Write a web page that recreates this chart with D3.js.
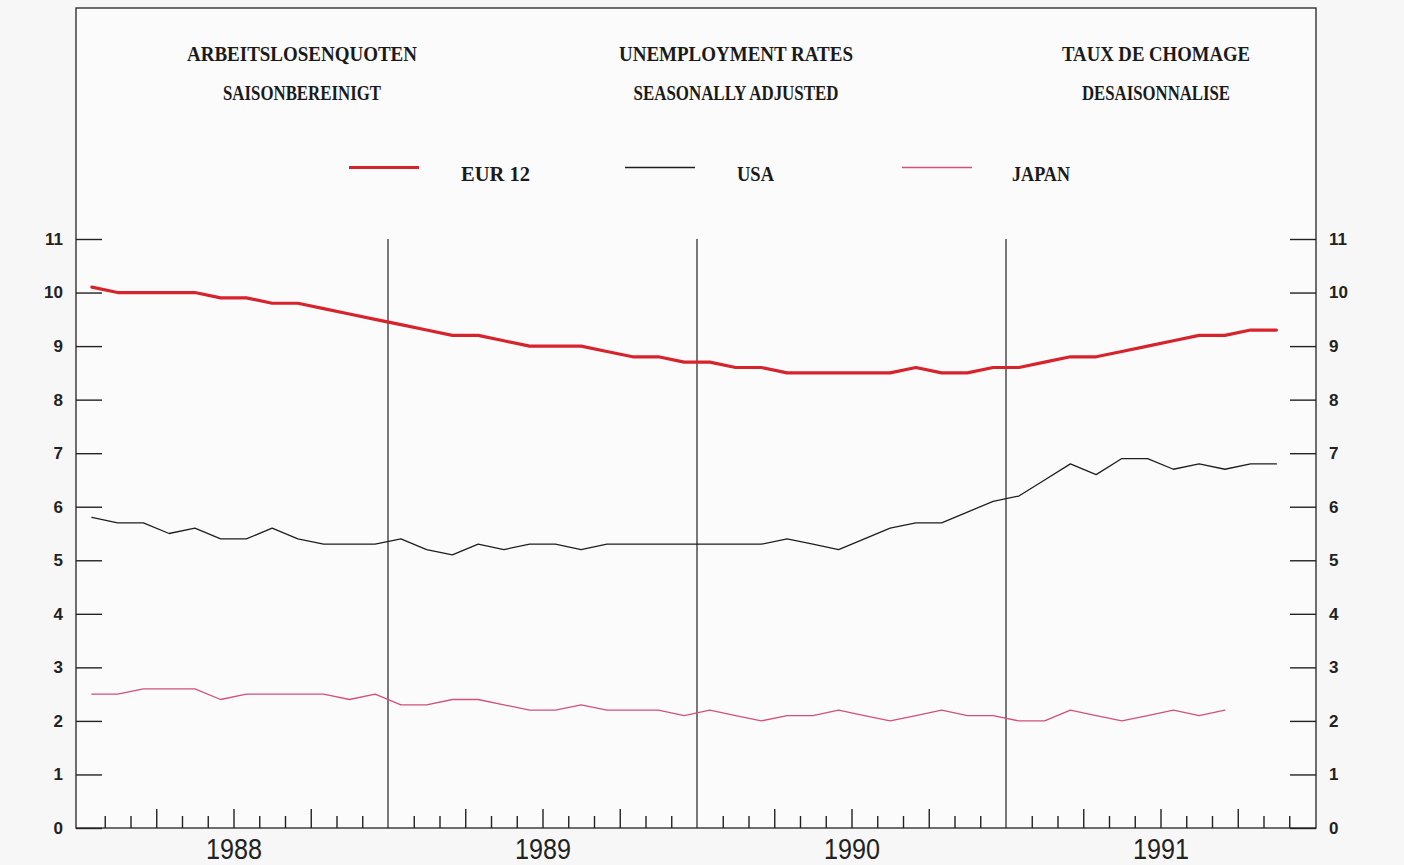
<!DOCTYPE html>
<html>
<head>
<meta charset="utf-8">
<script src="https://cdn.jsdelivr.net/npm/d3@7"></script>
<style>
  html, body { margin: 0; padding: 0; background: #f7f7f7; }
  svg { display: block; }
</style>
</head>
<body>
<svg id="chart" width="1404" height="865"></svg>
<script>
// ---------------- data ----------------
const years = ["1988", "1989", "1990", "1991"];
const yTickValues = [0, 1, 2, 3, 4, 5, 6, 7, 8, 9, 10, 11];
const titleLine1 = ["ARBEITSLOSENQUOTEN", "UNEMPLOYMENT RATES", "TAUX DE CHOMAGE"];
const titleLine2 = ["SAISONBEREINIGT", "SEASONALLY ADJUSTED", "DESAISONNALISE"];
const seriesNames = ["EUR 12", "USA", "JAPAN"];

// monthly values, Jan 1988 onwards
const eur12 = [10.1, 10.0, 10.0, 10.0, 10.0, 9.9, 9.9, 9.8, 9.8, 9.7, 9.6, 9.5,
               9.4, 9.3, 9.2, 9.2, 9.1, 9.0, 9.0, 9.0, 8.9, 8.8, 8.8, 8.7,
               8.7, 8.6, 8.6, 8.5, 8.5, 8.5, 8.5, 8.5, 8.6, 8.5, 8.5, 8.6,
               8.6, 8.7, 8.8, 8.8, 8.9, 9.0, 9.1, 9.2, 9.2, 9.3, 9.3];
const usa   = [5.8, 5.7, 5.7, 5.5, 5.6, 5.4, 5.4, 5.6, 5.4, 5.3, 5.3, 5.3,
               5.4, 5.2, 5.1, 5.3, 5.2, 5.3, 5.3, 5.2, 5.3, 5.3, 5.3, 5.3,
               5.3, 5.3, 5.3, 5.4, 5.3, 5.2, 5.4, 5.6, 5.7, 5.7, 5.9, 6.1,
               6.2, 6.5, 6.8, 6.6, 6.9, 6.9, 6.7, 6.8, 6.7, 6.8, 6.8];
const japan = [2.5, 2.5, 2.6, 2.6, 2.6, 2.4, 2.5, 2.5, 2.5, 2.5, 2.4, 2.5,
               2.3, 2.3, 2.4, 2.4, 2.3, 2.2, 2.2, 2.3, 2.2, 2.2, 2.2, 2.1,
               2.2, 2.1, 2.0, 2.1, 2.1, 2.2, 2.1, 2.0, 2.1, 2.2, 2.1, 2.1,
               2.0, 2.0, 2.2, 2.1, 2.0, 2.1, 2.2, 2.1, 2.2];

// ---------------- styles ----------------
const seriesColors = ["#d7232b", "#1e1e1e", "#d2507c"];
const seriesWidths = [3.2, 1.3, 1.3];
const serif = "'Liberation Serif', 'Times New Roman', serif";
const sans = "'Liberation Sans', Arial, sans-serif";

const svg = d3.select("#chart");
const nMonths = years.length * 12;

const x = d3.scaleLinear().domain([0, nMonths]).range([79, 1315]);
const y = d3.scaleLinear().domain([0, 11]).range([828, 239]);

// frame
svg.append("rect")
  .attr("x", 76).attr("y", 8)
  .attr("width", 1240).attr("height", 820)
  .attr("fill", "#fbfbfb")
  .attr("stroke", "#222").attr("stroke-width", 1.3);

// titles
const titleCenters = [302, 736, 1156];
const line1Widths = [230, 234, 188];
const line2Widths = [158, 205, 148];
titleLine1.forEach((t, i) => {
  svg.append("text")
    .attr("x", titleCenters[i]).attr("y", 61)
    .attr("text-anchor", "middle")
    .attr("font-family", serif).attr("font-weight", "bold")
    .attr("font-size", 22).attr("fill", "#1a1a1a")
    .attr("textLength", line1Widths[i]).attr("lengthAdjust", "spacingAndGlyphs")
    .text(t);
  svg.append("text")
    .attr("x", titleCenters[i]).attr("y", 100)
    .attr("text-anchor", "middle")
    .attr("font-family", serif).attr("font-weight", "bold")
    .attr("font-size", 20).attr("fill", "#1a1a1a")
    .attr("textLength", line2Widths[i]).attr("lengthAdjust", "spacingAndGlyphs")
    .text(titleLine2[i]);
});

// legend
const legendLineX = [349, 625, 902];
const legendTextX = [461, 737, 1012];
const legendTextW = [69, 37, 58];
seriesNames.forEach((name, i) => {
  svg.append("line")
    .attr("x1", legendLineX[i]).attr("x2", legendLineX[i] + 70)
    .attr("y1", 167.5).attr("y2", 167.5)
    .attr("stroke", seriesColors[i])
    .attr("stroke-width", i === 0 ? 3.2 : 1.4);
  svg.append("text")
    .attr("x", legendTextX[i]).attr("y", 181)
    .attr("font-family", serif).attr("font-weight", "bold")
    .attr("font-size", 20).attr("fill", "#1a1a1a")
    .attr("textLength", legendTextW[i]).attr("lengthAdjust", "spacingAndGlyphs")
    .text(name);
});

// y axes (ticks pointing inward)
const leftAxis = d3.axisLeft(y).tickValues(yTickValues).tickSize(-26).tickPadding(13).tickSizeOuter(0);
const gL = svg.append("g").attr("transform", "translate(76,0)").call(leftAxis);
const rightAxis = d3.axisRight(y).tickValues(yTickValues).tickSize(-26).tickPadding(13).tickSizeOuter(0);
const gR = svg.append("g").attr("transform", "translate(1316,0)").call(rightAxis);
[gL, gR].forEach(g => {
  g.select(".domain").remove();
  g.selectAll(".tick line").attr("stroke", "#222").attr("stroke-width", 1.4);
  g.selectAll(".tick text")
    .attr("font-family", sans).attr("font-weight", "bold")
    .attr("font-size", 17).attr("fill", "#222");
});

// bottom axis: month ticks, taller at quarters
const monthTicks = d3.range(1, nMonths).filter(m => m % 12 !== 0);
const bottomAxis = d3.axisBottom(x).tickValues(monthTicks).tickSize(-12).tickFormat("").tickSizeOuter(0);
const gB = svg.append("g").attr("transform", "translate(0,828)").call(bottomAxis);
gB.select(".domain").remove();
gB.selectAll(".tick line")
  .attr("y2", d => d % 3 === 0 ? -19 : -12)
  .attr("stroke", "#222").attr("stroke-width", 1.4);

// year labels
const yearAxis = d3.axisBottom(x)
  .tickValues(years.map((_, i) => i * 12 + 6))
  .tickFormat((d, i) => years[i])
  .tickSize(0).tickPadding(10);
const gY = svg.append("g").attr("transform", "translate(0,828)").call(yearAxis);
gY.select(".domain").remove();
gY.selectAll(".tick text")
  .attr("font-family", sans).attr("font-weight", 400)
  .attr("font-size", 29).attr("fill", "#222")
  .attr("textLength", 56).attr("lengthAdjust", "spacingAndGlyphs");

// year separator lines
svg.append("g").selectAll("line")
  .data(d3.range(1, years.length))
  .join("line")
  .attr("x1", d => x(d * 12)).attr("x2", d => x(d * 12))
  .attr("y1", y(11)).attr("y2", y(0))
  .attr("stroke", "#222").attr("stroke-width", 1.2);

// series lines
const line = d3.line().x((d, i) => x(i + 0.5)).y(d => y(d));
const allSeries = [eur12, usa, japan];
[2, 1, 0].forEach(k => {
  svg.append("path")
    .datum(allSeries[k])
    .attr("d", line)
    .attr("fill", "none")
    .attr("stroke", seriesColors[k])
    .attr("stroke-width", seriesWidths[k])
    .attr("stroke-linejoin", "round")
    .attr("stroke-linecap", "round");
});
</script>
</body>
</html>
